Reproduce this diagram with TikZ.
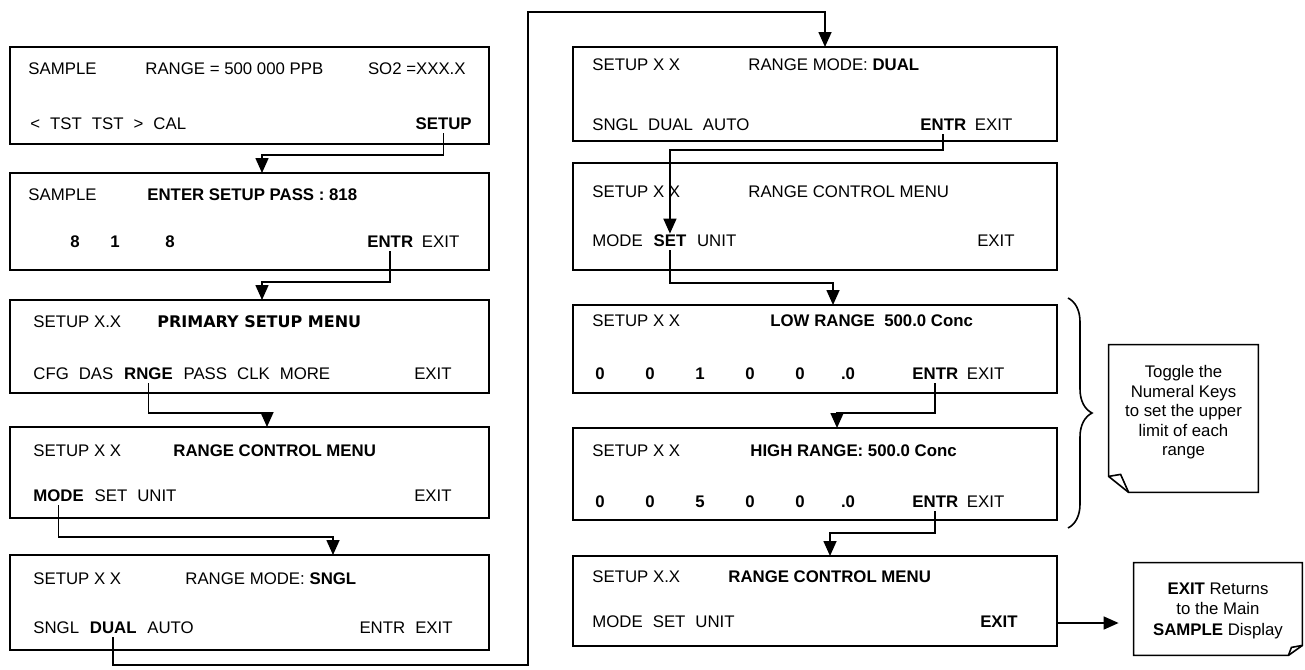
\documentclass[tikz,border=0pt]{standalone}
\usepackage{fontspec}
\setmainfont{Liberation Sans}
\newfontfamily\verdana{DejaVu Sans}
\newcommand\widespace{\spaceskip 5pt\relax}
\usetikzlibrary{arrows.meta,positioning,decorations.pathreplacing}

\begin{document}
\begin{tikzpicture}[x=0.5pt, y=-0.5pt,
	every node/.style={font=\fontsize{8.4}{9.75}\selectfont},
	screen/.style={draw, line width=0.9pt, inner sep=0pt, outer sep=0pt, anchor=north west},
	txt/.style={anchor=west, inner sep=0pt, text height=6.2pt, text depth=1.8pt},
	menu/.style={txt, font={\fontsize{8.4}{9.75}\selectfont\widespace}},
	key/.style={txt, font=\fontsize{8.4}{9.75}\selectfont\bfseries},
	flow/.style={line width=0.8pt, -{Triangle[width=6.5pt,length=7.5pt]}},
	note/.style={inner sep=0pt}]
	\useasboundingbox (0,0) rectangle (1305,669);
	\fill[white] (0,0) rectangle (1305,669);
	% left column
	\node[screen, minimum width=239.5pt, minimum height=48.5pt] (smp) at (10,47) {};
	\node[screen, minimum width=239.5pt, minimum height=48.5pt] (pass) at (10,173) {};
	\node[screen, minimum width=239.5pt, minimum height=46.5pt] (prim) at (10,300) {};
	\node[screen, minimum width=239.5pt, minimum height=45.5pt] (rcm) at (10,427) {};
	\node[screen, minimum width=239.5pt, minimum height=47.5pt] (sngl) at (10,555) {};
	\node[txt] at (28,70) {SAMPLE};
	\node[txt] at (145,70) {RANGE = 500 000 PPB};
	\node[txt, anchor=east] at (466,70) {SO2 =XXX.X};
	\node[menu] at (30,125) {< TST TST > CAL};
	\node[key, anchor=east] (setupkey) at (472,125) {SETUP};
	\node[txt] at (28,196) {SAMPLE};
	\node[key] at (147,196) {ENTER SETUP PASS : 818};
	\foreach \x/\d in {75/8,115/1,170/8}
		\node[key, anchor=center] at (\x,243) {\d};
	\node[key] (entra) at (367,243) {ENTR};
	\node[txt, right=4pt of entra] {EXIT};
	\node[txt] at (33,323) {SETUP X.X};
	\node[key, font=\verdana\fontsize{8}{9.75}\selectfont\bfseries] at (157,323) {PRIMARY SETUP MENU};
	\node[menu] (cfg) at (33,375) {CFG DAS};
	\node[key, right=5pt of cfg] (rngekey) {RNGE};
	\node[menu, right=5pt of rngekey] {PASS CLK MORE};
	\node[txt, anchor=east] at (452,375) {EXIT};
	\node[txt] at (33,452) {SETUP X X};
	\node[key] at (173,452) {RANGE CONTROL MENU};
	\node[key] (modekey) at (33,497) {MODE};
	\node[menu, right=5pt of modekey] {SET UNIT};
	\node[txt, anchor=east] at (452,497) {EXIT};
	\node[txt] at (33,580) {SETUP X X};
	\node[txt] at (185,580) {RANGE MODE: \textbf{SNGL}};
	\node[menu] (snglw) at (33,629) {SNGL};
	\node[key, right=5pt of snglw] (dualkey) {DUAL};
	\node[menu, right=5pt of dualkey] {AUTO};
	\node[menu, anchor=east] at (453,629) {ENTR EXIT};
	% right column
	\node[screen, minimum width=242pt, minimum height=47pt] (dual) at (573,47) {};
	\node[screen, minimum width=242pt, minimum height=53.5pt] (rcmb) at (573,163) {};
	\node[screen, minimum width=242pt, minimum height=44pt] (low) at (573,305) {};
	\node[screen, minimum width=242pt, minimum height=46pt] (high) at (573,428) {};
	\node[screen, minimum width=242pt, minimum height=45pt] (rcmc) at (573,556) {};
	\node[txt] at (592,66) {SETUP X X};
	\node[txt] at (748,66) {RANGE MODE: \textbf{DUAL}};
	\node[menu] at (592,126) {SNGL DUAL AUTO};
	\node[key] (entrb) at (920,126) {ENTR};
	\node[txt, right=4pt of entrb] {EXIT};
	\node[txt] at (592,193) {SETUP X X};
	\node[txt] at (748,193) {RANGE CONTROL MENU};
	\node[menu] (modew) at (592,242) {MODE};
	\node[key, right=5pt of modew] (setkey) {SET};
	\node[menu, right=5pt of setkey] {UNIT};
	\node[txt, anchor=east] at (1015,242) {EXIT};
	\node[txt] at (592,322) {SETUP X X};
	\node[key] at (770,322) {LOW RANGE\ \ 500.0 Conc};
	\foreach \x/\d in {600/0,650/0,700/1,750/0,800/0,848/.0}
		\node[key, anchor=center] at (\x,375) {\d};
	\node[key] (entrc) at (912,375) {ENTR};
	\node[txt, right=4pt of entrc] {EXIT};
	\node[txt] at (592,452) {SETUP X X};
	\node[key] at (750,452) {HIGH RANGE: 500.0 Conc};
	\foreach \x/\d in {600/0,650/0,700/5,750/0,800/0,848/.0}
		\node[key, anchor=center] at (\x,503) {\d};
	\node[key] (entrd) at (912,503) {ENTR};
	\node[txt, right=4pt of entrd] {EXIT};
	\node[txt] at (592,578) {SETUP X.X};
	\node[key] at (728,578) {RANGE CONTROL MENU};
	\node[menu] at (592,623) {MODE SET UNIT};
	\node[key, anchor=east] (exitkey) at (1018,623) {EXIT};
	% notes
	\node[note, minimum width=74.5pt, minimum height=73.5pt] (tognote) at (1183.5,418.5) {};
	\draw[line width=0.8pt] (tognote.north west) -- (tognote.north east) -- (tognote.south east)
		-- ([xshift=10pt]tognote.south west) -- ([yshift=8pt]tognote.south west) -- cycle;
	\draw[line width=0.8pt] ([yshift=8pt]tognote.south west) -- ([xshift=6pt,yshift=9pt]tognote.south west)
		-- ([xshift=10pt]tognote.south west);
	\node[align=center, below=7pt of tognote.north] {Toggle the\\Numeral Keys\\to set the upper\\limit of each\\range};
	\node[note, minimum width=84pt, minimum height=46pt] (exitnote) at (1218,609) {};
	\draw[line width=0.8pt] (exitnote.north west) -- (exitnote.north east) -- ([yshift=5pt]exitnote.south east)
		-- ([xshift=-7pt]exitnote.south east) -- (exitnote.south west) -- cycle;
	\draw[line width=0.8pt] ([yshift=5pt]exitnote.south east) -- ([xshift=-5.5pt,yshift=4pt]exitnote.south east)
		-- ([xshift=-7pt]exitnote.south east);
	\node[align=center, font=\fontsize{8.4}{10.25}\selectfont, below=6.5pt of exitnote.north] {\textbf{EXIT} Returns\\to the Main\\\textbf{SAMPLE} Display};
	\draw[line width=0.8pt, decorate, decoration={brace, amplitude=12pt}] (1068,298) -- (1068,528);
	% connectors
	\coordinate (t1) at (262,155);
	\coordinate (t2) at (262,282);
	\coordinate (t3) at (267,413);
	\coordinate (t4) at (333,537);
	\coordinate (lowturn) at (528,665);
	\coordinate (topturn) at (825,12);
	\coordinate (t6) at (setkey.north |- 0,150);
	\coordinate (t7) at (833,283);
	\coordinate (t8) at (837,413);
	\coordinate (t9) at (830,533);
	\draw[flow] (setupkey.south) |- (t1) -- (t1 |- pass.north);
	\draw[flow] (entra.south) |- (t2) -- (t2 |- prim.north);
	\draw[flow] (rngekey.south) |- (t3) -- (t3 |- rcm.north);
	\draw[flow] (modekey.south) |- (t4) -- (t4 |- sngl.north);
	\draw[flow] (dualkey.south) |- (lowturn) |- (topturn) -- (topturn |- dual.north);
	\draw[flow] (entrb.south) |- (t6) -- (setkey.north);
	\draw[flow] (setkey.south) |- (t7) -- (t7 |- low.north);
	\draw[flow] (entrc.south) |- (t8) -- (t8 |- high.north);
	\draw[flow] (entrd.south) |- (t9) -- (t9 |- rcmc.north);
	\draw[flow, shorten >=7.5pt] (rcmc.east |- exitkey) -- (exitnote.west |- exitkey);
\end{tikzpicture}
\end{document}
